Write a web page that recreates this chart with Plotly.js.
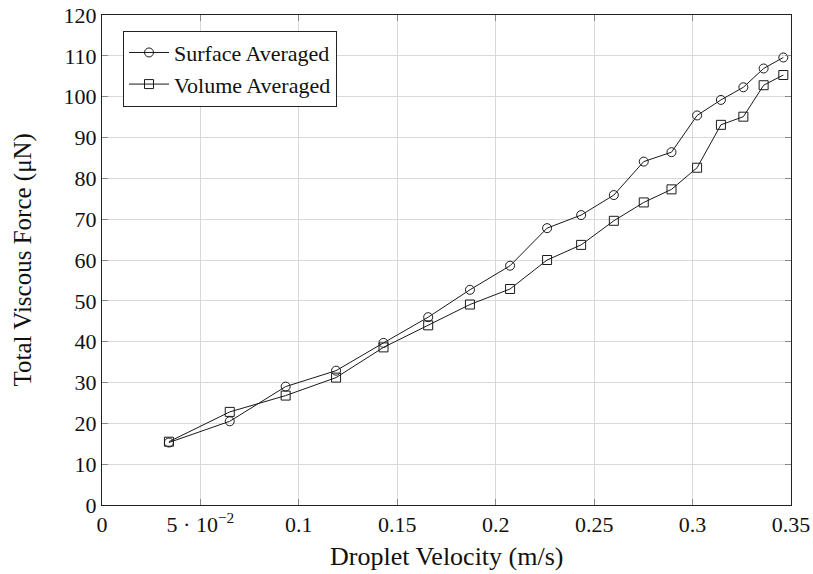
<!DOCTYPE html>
<html>
<head>
<meta charset="utf-8">
<script src="https://cdn.plot.ly/plotly-3.0.1.min.js"></script>
<style>html,body{margin:0;padding:0;background:#fff;}#chart{width:813px;height:574px;}</style>
</head>
<body>
<div id="chart"></div>
<script>
// Data
const velocity = [0.0340, 0.0649, 0.0933, 0.1189, 0.1430, 0.1657, 0.1869, 0.2073, 0.2261, 0.2434, 0.2600, 0.2752, 0.2893, 0.3023, 0.3144, 0.3258, 0.3361, 0.3461];
const surfaceAveraged = [15.3, 20.5, 29.0, 32.9, 39.7, 46.0, 52.7, 58.6, 67.8, 71.0, 75.9, 84.1, 86.4, 95.4, 99.2, 102.3, 106.9, 109.6];
const volumeAveraged = [15.5, 22.8, 26.8, 31.2, 38.6, 44.0, 49.1, 52.9, 60.0, 63.7, 69.6, 74.1, 77.3, 82.6, 93.1, 95.1, 102.8, 105.3];
const xTickVals = [0, 0.05, 0.1, 0.15, 0.2, 0.25, 0.3, 0.35];
const xTickText = ['0', '5 · 10<sup>−2</sup>', '0.1', '0.15', '0.2', '0.25', '0.3', '0.35'];
const yTickVals = [0, 10, 20, 30, 40, 50, 60, 70, 80, 90, 100, 110, 120];
const seriesNames = ['Surface Averaged', 'Volume Averaged'];
const xTitle = 'Droplet Velocity (m/s)';
const yTitle = 'Total Viscous Force (μN)';

const FONT = '"Liberation Serif", "DejaVu Serif", serif';
const lineStyle = {color: '#1a1a1a', width: 1};

const traces = [
  {
    x: velocity, y: surfaceAveraged, name: seriesNames[0],
    type: 'scatter', mode: 'lines+markers',
    line: lineStyle,
    marker: {symbol: 'circle', size: 9, color: 'rgba(255,255,255,0)', line: {color: '#1a1a1a', width: 1}}
  },
  {
    x: velocity, y: volumeAveraged, name: seriesNames[1],
    type: 'scatter', mode: 'lines+markers',
    line: lineStyle,
    marker: {symbol: 'square', size: 9, color: 'rgba(255,255,255,0)', line: {color: '#1a1a1a', width: 1}}
  }
];

const axisCommon = {
  showline: true, linecolor: '#222', linewidth: 1, mirror: 'ticks',
  ticks: 'inside', ticklen: 6, tickcolor: '#888', tickwidth: 1,
  showgrid: true, gridcolor: '#d9d9d9', gridwidth: 1,
  zeroline: false, automargin: false,
  tickfont: {family: FONT, size: 22, color: '#111'}
};

const layout = {
  width: 813, height: 574,
  margin: {l: 102, r: 22, t: 15, b: 69, pad: 0},
  paper_bgcolor: '#fff', plot_bgcolor: '#fff',
  font: {family: FONT, color: '#111'},
  showlegend: true,
  legend: {
    x: 0.0305, y: 0.968, xanchor: 'left', yanchor: 'top',
    bgcolor: '#fff', bordercolor: '#222', borderwidth: 1,
    font: {family: FONT, size: 22, color: '#111'},
    itemwidth: 40,
    entrywidth: 236, entrywidthmode: 'pixels',
    tracegroupgap: 0
  },
  xaxis: Object.assign({}, axisCommon, {
    range: [0, 0.35], tickmode: 'array', tickvals: xTickVals, ticktext: xTickText
  }),
  yaxis: Object.assign({}, axisCommon, {
    range: [0, 120], tickmode: 'array', tickvals: yTickVals
  }),
  annotations: [
    {text: xTitle, xref: 'paper', yref: 'paper', x: 0.5, y: -0.1054,
     xanchor: 'center', yanchor: 'middle', showarrow: false,
     font: {family: FONT, size: 26, color: '#111'}},
    {text: yTitle, xref: 'paper', yref: 'paper', x: -0.114, y: 0.5,
     xanchor: 'center', yanchor: 'middle', showarrow: false, textangle: -90,
     font: {family: FONT, size: 25, color: '#111'}}
  ]
};

Plotly.newPlot('chart', traces, layout, {staticPlot: true, displayModeBar: false});
</script>
</body>
</html>
